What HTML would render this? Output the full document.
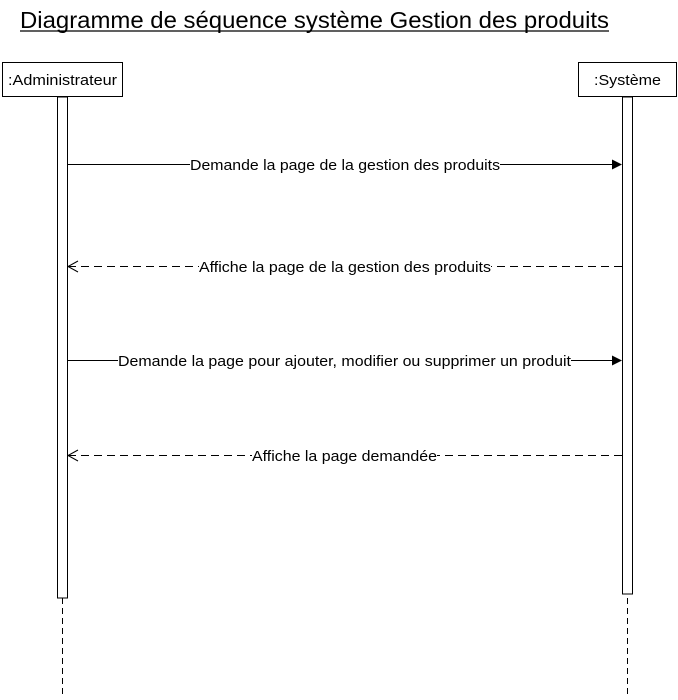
<!DOCTYPE html>
<html><head><meta charset="utf-8"><style>
body{margin:0;background:#fff;width:678px;height:695px;overflow:hidden}
</style></head><body>
<svg width="678" height="695" xmlns="http://www.w3.org/2000/svg" style="font-family:'Liberation Sans',Arial,sans-serif">
<text x="20" y="28" font-size="23" fill="#000" textLength="589" lengthAdjust="spacingAndGlyphs">Diagramme de séquence système Gestion des produits</text>
<line x1="20" y1="31" x2="609" y2="31" stroke="#000" stroke-width="1.2"/>
<rect x="2.5" y="62.5" width="120" height="34" fill="#fff" stroke="#000"/>
<text x="8" y="85" font-size="15" textLength="109" lengthAdjust="spacingAndGlyphs">:Administrateur</text>
<rect x="578.5" y="62.5" width="98" height="34" fill="#fff" stroke="#000"/>
<text x="594" y="85" font-size="15" textLength="67" lengthAdjust="spacingAndGlyphs">:Système</text>
<line x1="62.5" y1="598" x2="62.5" y2="695" stroke="#000" stroke-dasharray="6,4"/>
<line x1="627.5" y1="598" x2="627.5" y2="695" stroke="#000" stroke-dasharray="6,4"/>
<rect x="57.5" y="97" width="10" height="501" fill="#fff" stroke="#000"/>
<rect x="622.5" y="97" width="10" height="497" fill="#fff" stroke="#000"/>
<g stroke="#000" fill="none">
<line x1="68" y1="164.5" x2="614" y2="164.5"/>
<line x1="68" y1="360.5" x2="614" y2="360.5"/>
<line x1="68" y1="266.5" x2="622" y2="266.5" stroke-dasharray="8,5"/>
<line x1="68" y1="455.5" x2="622" y2="455.5" stroke-dasharray="8,5"/>
<polyline points="78,261 68,266.5 78,272"/>
<polyline points="78,450 68,455.5 78,461"/>
</g>
<polygon points="612,159.5 622,164.5 612,169.5" fill="#000"/>
<polygon points="612,355.5 622,360.5 612,365.5" fill="#000"/>
<g font-size="15">
<rect x="190" y="155" width="310" height="18" fill="#fff"/>
<text x="190" y="170" textLength="310" lengthAdjust="spacingAndGlyphs">Demande la page de la gestion des produits</text>
<rect x="199" y="257" width="292" height="18" fill="#fff"/>
<text x="199" y="272" textLength="292" lengthAdjust="spacingAndGlyphs">Affiche la page de la gestion des produits</text>
<rect x="118" y="351" width="453" height="18" fill="#fff"/>
<text x="118" y="366" textLength="453" lengthAdjust="spacingAndGlyphs">Demande la page pour ajouter, modifier ou supprimer un produit</text>
<rect x="252" y="446" width="185" height="18" fill="#fff"/>
<text x="252" y="461" textLength="185" lengthAdjust="spacingAndGlyphs">Affiche la page demandée</text>
</g>
</svg>
</body></html>
